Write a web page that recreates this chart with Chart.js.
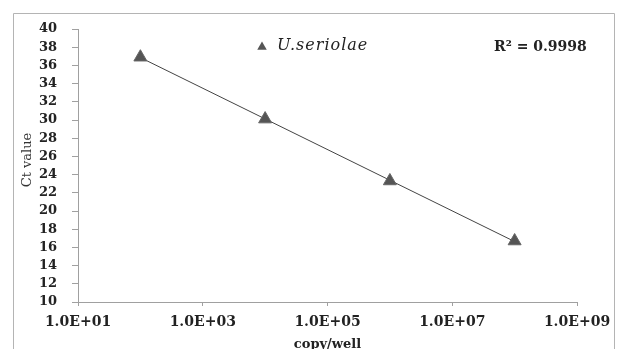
<!DOCTYPE html>
<html>
<head>
<meta charset="utf-8">
<script src="https://cdn.jsdelivr.net/npm/chart.js@4/dist/chart.umd.min.js"></script>
<style>
  html, body { margin: 0; padding: 0; background: #fff; }
  #wrap { width: 622px; height: 349px; position: relative; }
</style>
</head>
<body>
<div id="wrap"><canvas id="c" width="622" height="349"></canvas></div>
<script>
// Standard curve: copies per well vs. Ct
const copies = [1e2, 1e4, 1e6, 1e8];
const ctValues = [36.9, 30.1, 23.3, 16.7];
const xTicks = [1e1, 1e3, 1e5, 1e7, 1e9];
const seriesName = 'U.seriolae';
const rSquaredLabel = 'R\u00B2 = 0.9998';
const yTitle = 'Ct value';
const xTitle = 'copy/well';

// Least-squares line of Ct against log10(copies)
function fitLine(xs, ys) {
  const lx = xs.map(v => Math.log10(v));
  const n = lx.length;
  const mx = lx.reduce((a, b) => a + b, 0) / n;
  const my = ys.reduce((a, b) => a + b, 0) / n;
  let sxy = 0, sxx = 0;
  for (let i = 0; i < n; i++) { sxy += (lx[i] - mx) * (ys[i] - my); sxx += (lx[i] - mx) ** 2; }
  const slope = sxy / sxx;
  const icpt = my - slope * mx;
  const ends = [xs[0], xs[n - 1]];
  return ends.map(x => ({ x, y: icpt + slope * Math.log10(x) }));
}
const trend = fitLine(copies, ctValues);

function sci(v) {
  const e = Math.round(Math.log10(v));
  return '1.0E' + (e < 0 ? '-' : '+') + String(Math.abs(e)).padStart(2, '0');
}

const SERIF = '"DejaVu Serif", serif';
const MARK = '#555555';

// Frame around the figure, the in-plot legend, R² note and the Ct axis title
const decorations = {
  id: 'decorations',
  beforeDraw(chart) {
    const ctx = chart.ctx;
    ctx.save();
    ctx.fillStyle = '#fff';
    ctx.fillRect(0, 0, chart.width, chart.height);
    ctx.strokeStyle = '#b4b4b4';
    ctx.lineWidth = 1;
    ctx.beginPath();
    ctx.moveTo(13.5, chart.height + 2);
    ctx.lineTo(13.5, 13.5);
    ctx.lineTo(614.5, 13.5);
    ctx.lineTo(614.5, chart.height + 2);
    ctx.stroke();
    ctx.restore();
  },
  afterDraw(chart) {
    const ctx = chart.ctx;
    ctx.save();
    // legend marker
    const lx = 262, ly = 47, r = 5.5;
    ctx.fillStyle = MARK;
    ctx.beginPath();
    ctx.moveTo(lx, ly - r);
    ctx.lineTo(lx + r * 0.866, ly + r * 0.5);
    ctx.lineTo(lx - r * 0.866, ly + r * 0.5);
    ctx.closePath();
    ctx.fill();
    ctx.fillStyle = '#222';
    ctx.textBaseline = 'middle';
    ctx.textAlign = 'left';
    ctx.font = 'italic 16px ' + SERIF;
    ctx.letterSpacing = '1px';
    ctx.fillText(seriesName, 277, 46);
    ctx.letterSpacing = '0px';
    ctx.font = 'bold 14px ' + SERIF;
    ctx.fillText(rSquaredLabel, 494, 47);
    // rotated y-axis title
    ctx.translate(28, 160);
    ctx.rotate(-Math.PI / 2);
    ctx.textAlign = 'center';
    ctx.fillStyle = '#333';
    ctx.font = '13px ' + SERIF;
    ctx.fillText(yTitle, 0, 0);
    ctx.restore();
  }
};

new Chart(document.getElementById('c'), {
  type: 'scatter',
  data: {
    datasets: [
      {
        label: seriesName,
        data: copies.map((x, i) => ({ x, y: ctValues[i] })),
        pointStyle: 'triangle',
        pointRadius: 7.5,
        pointHoverRadius: 7.5,
        backgroundColor: MARK,
        borderColor: '#666',
        borderWidth: 1,
        order: 1
      },
      {
        type: 'line',
        label: 'fit',
        data: trend,
        borderColor: '#444',
        borderWidth: 1,
        pointRadius: 0,
        fill: false,
        order: 2
      }
    ]
  },
  plugins: [decorations],
  options: {
    responsive: false,
    animation: false,
    events: [],
    layout: { padding: { left: 0, right: 45, top: 29, bottom: 0 } },
    plugins: { legend: { display: false }, tooltip: { enabled: false } },
    scales: {
      x: {
        type: 'logarithmic',
        min: 1e1,
        max: 1e9,
        afterBuildTicks(scale) { scale.ticks = xTicks.map(v => ({ value: v })); },
        afterFit(scale) { scale.height = 47; },
        ticks: {
          callback: v => sci(v),
          color: '#222',
          font: { family: SERIF, size: 14, weight: 'bold' },
          padding: 8,
          maxRotation: 0,
          autoSkip: false
        },
        grid: { drawOnChartArea: false, tickLength: 4, color: '#a0a0a0' },
        border: { color: '#a0a0a0', width: 1 },
        title: {
          display: true,
          text: xTitle,
          color: '#222',
          font: { family: SERIF, size: 13, weight: 'bold', lineHeight: 1 },
          padding: { top: 0, bottom: -2 }
        }
      },
      y: {
        min: 10,
        max: 40,
        afterFit(scale) { scale.width = 78; },
        ticks: {
          stepSize: 2,
          autoSkip: false,
          color: '#222',
          font: { family: SERIF, size: 13, weight: 'bold' },
          padding: 15
        },
        grid: { drawOnChartArea: false, tickLength: 6, color: '#a0a0a0' },
        border: { color: '#a0a0a0', width: 1 }
      }
    }
  }
});
</script>
</body>
</html>
